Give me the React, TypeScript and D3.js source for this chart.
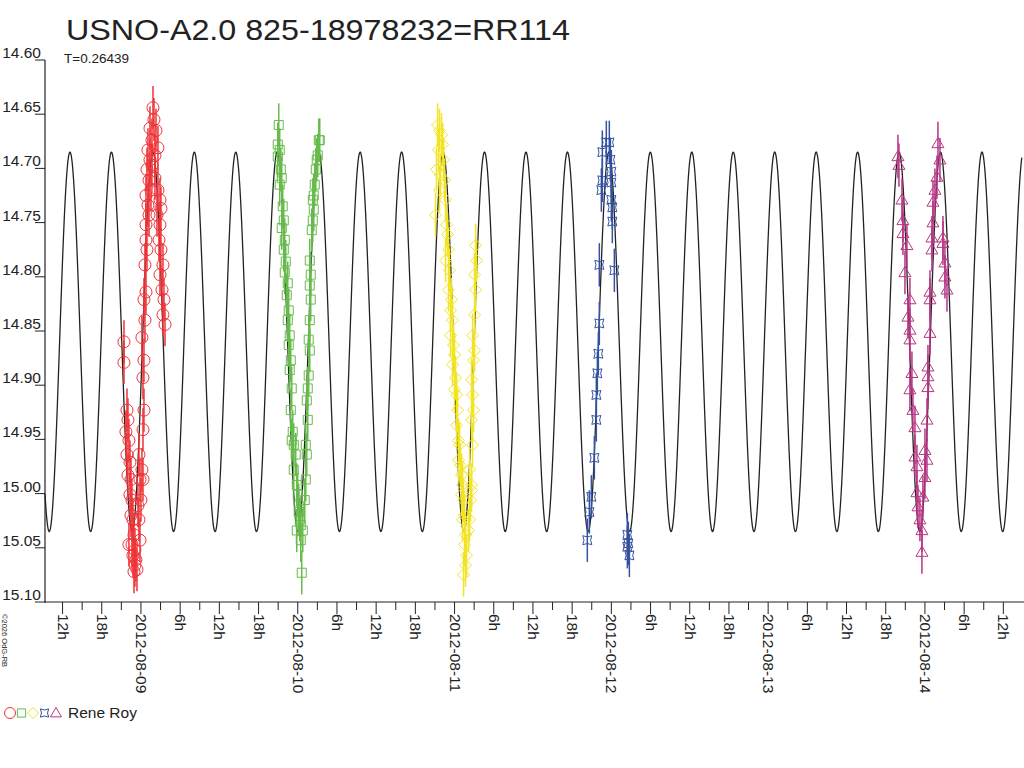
import React from "react";
import * as d3 from "d3";

const title = "USNO-A2.0 825-18978232=RR114";
const periodDays = 0.26439;
const meanMag = 14.86;
const amplitude = 0.175;
const epochDay = -0.4528; // days from 2012-08-09 00:00 UT of a maximum
const dayLabels = ["2012-08-09", "2012-08-10", "2012-08-11", "2012-08-12", "2012-08-13", "2012-08-14"];
const yTicks = [14.6, 14.65, 14.7, 14.75, 14.8, 14.85, 14.9, 14.95, 15.0, 15.05, 15.1];
const observer = "Rene Roy";

// [hours relative to the series' date midnight, magnitude]
const redDay = 0;
const redPts: [number, number][] = [
  [-2.6, 14.86], [-2.6, 14.879], [-2.14, 14.923], [-1.99, 14.932], [-2.3, 14.943], [-1.84, 14.951], [-2.14, 14.964],
  [-1.68, 14.971], [-1.99, 14.983], [-1.53, 14.987], [-1.68, 15.001], [-1.38, 15.006], [-1.53, 15.02], [-1.23, 15.024],
  [-1.07, 15.038], [-1.38, 15.047], [-0.92, 15.052], [-0.77, 15.061], [-0.92, 15.066], [-1.07, 15.072], [-0.61, 15.07],
  [-0.15, 15.043], [-0.31, 15.024], [0, 15.006], [-0.15, 14.987], [0.15, 14.978], [-0.31, 14.964], [0.31, 14.941],
  [0.46, 14.923], [0.31, 14.893], [0.46, 14.877], [0.15, 14.856], [0.61, 14.84], [0.46, 14.821], [0.77, 14.814],
  [0.92, 14.775], [0.77, 14.752], [1.07, 14.734], [0.77, 14.725], [1.23, 14.711], [0.92, 14.701], [1.38, 14.692],
  [1.07, 14.683], [1.68, 14.674], [1.38, 14.663], [1.99, 14.655], [1.84, 14.644], [2.3, 14.665], [1.68, 14.697],
  [2.14, 14.709], [2.6, 14.72], [2.91, 14.729], [2.45, 14.743], [2.91, 14.752], [2.76, 14.766], [3.06, 14.775],
  [3.37, 14.789], [2.91, 14.798], [3.22, 14.812], [3.52, 14.821], [3.37, 14.835], [3.68, 14.844], [3.06, 14.737],
  [2.6, 14.681], [2.14, 14.688], [1.53, 14.72], [1.23, 14.743], [0.77, 14.766], [0.61, 14.789], [0.31, 14.987],
  [-0.46, 15.011], [-1.84, 15.047], [-1.23, 15.057],
];
const greenDay = 1;
const greenPts: [number, number][] = [
  [-2.91, 14.66], [-3.06, 14.678], [-2.76, 14.683], [-3.06, 14.689], [-2.6, 14.701], [-2.45, 14.709], [-2.76, 14.715],
  [-2.3, 14.735], [-2.14, 14.748], [-2.45, 14.755], [-1.99, 14.766], [-2.14, 14.775], [-1.84, 14.786], [-1.99, 14.796],
  [-1.53, 14.806], [-1.68, 14.817], [-1.38, 14.831], [-1.53, 14.84], [-1.23, 14.854], [-1.38, 14.863], [-1.07, 14.877],
  [-1.23, 14.886], [-0.92, 14.903], [-1.07, 14.923], [-0.77, 14.943], [-0.92, 14.951], [-0.61, 14.955], [-0.31, 14.964],
  [-0.61, 14.978], [-0.15, 14.992], [0, 15.001], [0.15, 15.011], [0.31, 15.024], [0.46, 15.029], [0.77, 15.034],
  [0.46, 15.043], [0.61, 15.073], [0.15, 15.017], [-0.15, 15.034],
  [1.07, 15.006], [1.23, 14.987], [1.38, 14.964], [1.23, 14.955], [1.53, 14.932], [1.38, 14.914], [1.53, 14.903],
  [1.68, 14.891], [1.84, 14.868], [1.68, 14.858], [1.84, 14.84], [1.99, 14.821], [1.84, 14.808], [1.99, 14.798],
  [1.84, 14.785], [2.14, 14.757], [2.3, 14.748], [2.45, 14.738], [2.3, 14.729], [2.45, 14.725], [2.6, 14.715],
  [2.76, 14.701], [2.91, 14.692], [3.22, 14.674], [3.37, 14.674], [3.06, 14.688],
];
const yellowDay = 2;
const yellowPts: [number, number][] = [
  [-2.6, 14.66], [-2.3, 14.665], [-1.99, 14.669], [-1.84, 14.678], [-2.45, 14.683], [-1.68, 14.692], [-2.76, 14.701],
  [-2.14, 14.706], [-1.53, 14.711], [-2.3, 14.72], [-1.38, 14.729], [-2.91, 14.743], [-1.23, 14.752], [-1.07, 14.761],
  [-0.92, 14.775], [-1.38, 14.785], [-0.77, 14.794], [-0.92, 14.812], [-0.46, 14.821], [-0.61, 14.831], [-0.31, 14.84],
  [-0.61, 14.854], [-0.15, 14.863], [0, 14.872], [-0.31, 14.881], [0.15, 14.893], [0, 14.904], [0.31, 14.909],
  [0.46, 14.923], [0.31, 14.937], [0.61, 14.951], [0.77, 14.955], [0.61, 14.969], [0.92, 14.974], [1.07, 14.983],
  [1.23, 14.992], [1.07, 15.001], [1.38, 15.006], [1.53, 15.02], [1.23, 15.024], [1.68, 15.038], [1.53, 15.047],
  [1.84, 15.057], [1.68, 15.066], [1.38, 15.075],
  [2.3, 15.024], [2.45, 15.006], [2.6, 14.997], [2.3, 14.978], [2.76, 14.955], [2.6, 14.932], [2.91, 14.923],
  [2.76, 14.909], [2.6, 14.895], [2.91, 14.877], [3.06, 14.868], [2.76, 14.854], [3.06, 14.835], [3.22, 14.812],
  [3.06, 14.798], [3.37, 14.785], [3.22, 14.771], [2.6, 14.992], [2.14, 15.034],
];
const blueDay = 3;
const bluePts: [number, number][] = [
  [-3.68, 15.043], [-3.37, 15.017], [-3.06, 15.003], [-2.6, 14.967], [-2.3, 14.932], [-2.3, 14.909], [-2.14, 14.889],
  [-1.99, 14.871], [-1.84, 14.843], [-1.84, 14.789], [-1.53, 14.72], [-1.38, 14.711], [-1.38, 14.685], [-0.77, 14.676],
  [-0.31, 14.676], [0, 14.703], [0, 14.713], [0, 14.729], [0.15, 14.736], [0.15, 14.749], [0.46, 14.794],
  [-0.15, 14.692], [2.45, 15.038], [2.6, 15.046], [2.76, 15.057], [2.45, 15.049],
];
const purpleDay = 5;
const purplePts: [number, number][] = [
  [-4.13, 14.689], [-3.98, 14.697], [-3.52, 14.729], [-3.37, 14.748], [-3.37, 14.76], [-2.76, 14.771], [-3.06, 14.796],
  [-2.3, 14.821], [-2.6, 14.837], [-2.3, 14.849], [-2.3, 14.858], [-1.99, 14.889], [-2.3, 14.904], [-1.84, 14.923],
  [-1.53, 14.939], [-1.53, 14.966], [-1.23, 14.975], [-1.23, 14.999], [-1.07, 15.012], [-0.77, 15.024], [-0.46, 15.034],
  [-0.46, 15.054], [-0.31, 15.003], [0, 14.985], [0.31, 14.969], [0, 14.96], [0.31, 14.932], [0.46, 14.902],
  [0.46, 14.892], [0.46, 14.883], [0.77, 14.852], [0.77, 14.821], [0.77, 14.814], [1.07, 14.775], [1.07, 14.764],
  [1.23, 14.75], [1.23, 14.731], [1.53, 14.72], [1.84, 14.708], [1.99, 14.677], [2.3, 14.692], [2.76, 14.769],
  [3.06, 14.787], [3.06, 14.8], [3.37, 14.812], [2.76, 14.764],
];
const errorMag = 0.02;

type Sym = "circle" | "square" | "diamond" | "star" | "triangle";
const series: { day: number; pts: [number, number][]; color: string; sym: Sym }[] = [
  { day: redDay, pts: redPts, color: "#ee3338", sym: "circle" },
  { day: greenDay, pts: greenPts, color: "#66bb4a", sym: "square" },
  { day: yellowDay, pts: yellowPts, color: "#f2e422", sym: "diamond" },
  { day: blueDay, pts: bluePts, color: "#3352a0", sym: "star" },
  { day: purpleDay, pts: purplePts, color: "#b83585", sym: "triangle" },
];

function symPath(s: Sym, cx: number, cy: number, r: number): string {
  switch (s) {
    case "circle":
      return `M${cx - r},${cy}a${r},${r} 0 1,0 ${2 * r},0a${r},${r} 0 1,0 ${-2 * r},0`;
    case "square":
      return `M${cx - r * 0.75},${cy - r * 0.75}h${r * 1.5}v${r * 1.5}h${-r * 1.5}z`;
    case "diamond":
      return `M${cx},${cy - r}L${cx + r},${cy}L${cx},${cy + r}L${cx - r},${cy}z`;
    case "star": {
      const a = r * 0.75, b = r * 0.35;
      return `M${cx - a},${cy - a}Q${cx},${cy - b} ${cx + a},${cy - a}Q${cx + b},${cy} ${cx + a},${cy + a}Q${cx},${cy + b} ${cx - a},${cy + a}Q${cx - b},${cy} ${cx - a},${cy - a}z`;
    }
    case "triangle":
      return `M${cx},${cy - r}L${cx + r},${cy + r * 0.7}L${cx - r},${cy + r * 0.7}z`;
  }
}

export default function App() {
  const font = "Arial, 'Liberation Sans', sans-serif";
  const x = d3.scaleLinear().domain([-0.612, 5.619]).range([45, 1022]);
  const y = d3.scaleLinear().domain([14.6, 15.1]).range([60, 602]);
  const curve = d3.range(-0.612, 5.62, 0.002).map((t) => [t, meanMag - amplitude * Math.cos((2 * Math.PI * (t - epochDay)) / periodDays)] as [number, number]);
  const line = d3.line<[number, number]>().x((d) => x(d[0])).y((d) => y(d[1]));
  const ticks3h = d3.range(-0.5, 5.62, 0.125);
  const tickLabel = (t: number) => {
    const h = Math.round(((t % 1) + 1) % 1 * 24);
    if (h === 0) return dayLabels[Math.round(t)];
    if (h % 6 === 0) return `${h}h`;
    return null;
  };
  return (
    <svg width={1024} height={768} style={{ position: "absolute", left: 0, top: 0, background: "#fff" }} fontFamily={font}>
      <rect width={1024} height={768} fill="#fff" />
      <text x={66} y={40} fontSize={30} fill="#222" textLength={504} lengthAdjust="spacingAndGlyphs">{title}</text>
      <text x={64} y={63} fontSize={13.5} fill="#222">{`T=${periodDays}`}</text>
      <path d={line(curve) ?? ""} fill="none" stroke="#222" strokeWidth={1.3} />
      {series.map((s, i) => (
        <g key={i} stroke={s.color} fill="none" strokeWidth={1}>
          {s.pts.map((p, j) => {
            const t = s.day + p[0] / 24;
            const cx = x(t), cy = y(p[1]);
            return (
              <g key={j}>
                <line x1={cx} x2={cx} y1={y(p[1] - errorMag)} y2={y(p[1] + errorMag)} strokeWidth={1.5} />
                <path d={symPath(s.sym, cx, cy, 6)} />
              </g>
            );
          })}
        </g>
      ))}
      <line x1={45} x2={45} y1={60} y2={603} stroke="#222" strokeWidth={1.2} />
      {yTicks.map((v) => (
        <g key={v}>
          <line x1={35} x2={45} y1={y(v)} y2={y(v)} stroke="#222" />
          <text x={41} y={y(v) - 2} textAnchor="end" fontSize={15.5} fill="#222">{v.toFixed(2)}</text>
        </g>
      ))}
      <line x1={45} x2={1024} y1={602} y2={602} stroke="#222" strokeWidth={1.2} />
      {ticks3h.map((t) => {
        const lab = tickLabel(t);
        const xx = x(t);
        return (
          <g key={t}>
            <line x1={xx} x2={xx} y1={602} y2={lab ? 614 : 610} stroke="#222" />
            {lab && (
              <text transform={`translate(${xx - 5},${614}) rotate(90)`} fontSize={15.5} fill="#222">{lab}</text>
            )}
          </g>
        );
      })}
      <text transform="translate(2,614) rotate(90)" fontSize={7.5} fill="#222">©2026 OdG-RB</text>
      {series.map((s, i) => (
        <path key={i} d={symPath(s.sym, 10 + i * 11.5, 713, 5.5)} stroke={s.color} fill="none" />
      ))}
      <text x={68} y={718} fontSize={15.5} fill="#222">{observer}</text>
    </svg>
  );
}
